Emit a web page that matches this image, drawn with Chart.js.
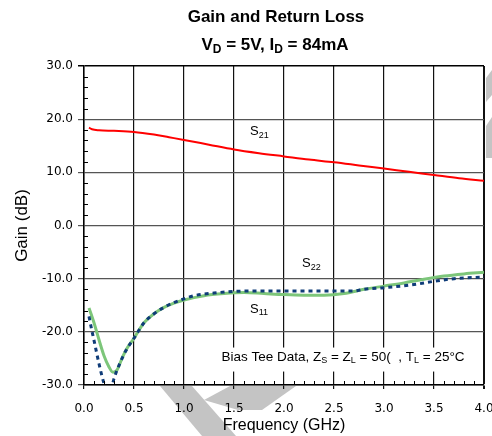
<!DOCTYPE html>
<html>
<head>
<meta charset="utf-8">
<script src="https://cdn.jsdelivr.net/npm/chart.js@4.4.1/dist/chart.umd.min.js"></script>
<style>
  html, body { margin: 0; padding: 0; background: #fff; }
  #wrap { width: 492px; height: 436px; }
</style>
</head>
<body>
<div id="wrap"><canvas id="chart" width="492" height="436"></canvas></div>
<script>
// frequencies (GHz) and values (dB)
const freqS21 = [0.05, 0.08, 0.15, 0.3, 0.5, 0.7, 0.85, 1.0, 1.25, 1.5, 1.75, 2.0, 2.25, 2.5, 2.75, 3.0, 3.25, 3.5, 3.75, 4.0];
const s21 = [18.4, 18.1, 17.9, 17.8, 17.6, 17.1, 16.6, 16.1, 15.2, 14.3, 13.6, 13.0, 12.4, 11.9, 11.3, 10.7, 10.1, 9.5, 8.9, 8.4];

const freqS22 = [0.05, 0.1, 0.15, 0.2, 0.25, 0.29, 0.33, 0.38, 0.42, 0.5, 0.6, 0.7, 0.8, 0.9, 1.0, 1.2, 1.4, 1.6, 1.8, 2.0, 2.2, 2.4, 2.6, 2.8, 3.0, 3.2, 3.4, 3.6, 3.8, 4.0];
const s22 = [-15.5, -18.3, -21.5, -24.5, -26.6, -27.6, -27.2, -25.0, -23.4, -21.2, -18.3, -16.6, -15.4, -14.6, -14.0, -13.2, -12.8, -12.6, -12.8, -13.0, -13.1, -13.1, -12.8, -12.0, -11.4, -10.8, -10.1, -9.5, -9.1, -8.8];

const freqS11 = [0.05, 0.08, 0.1, 0.15, 0.2, 0.25, 0.3, 0.35, 0.42, 0.5, 0.6, 0.7, 0.8, 0.9, 1.0, 1.1, 1.3, 1.5, 1.8, 2.1, 2.4, 2.7, 2.8, 3.0, 3.3, 3.5, 3.7, 4.0];
const s11 = [-17.1, -19.9, -21.6, -26.0, -29.7, -32.0, -28.8, -26.3, -23.5, -21.2, -18.3, -16.6, -15.4, -14.5, -13.8, -13.2, -12.7, -12.4, -12.3, -12.3, -12.3, -12.3, -12.0, -11.7, -11.1, -10.5, -10.0, -9.7];

const xTicks = [0, 0.5, 1.0, 1.5, 2.0, 2.5, 3.0, 3.5, 4.0];
const yTicks = [-30, -20, -10, 0, 10, 20, 30];

const toPts = (xs, ys) => xs.map((x, i) => ({ x: x, y: ys[i] }));

const TXT = '"Liberation Sans", Arial, sans-serif';
const TICK = '"DejaVu Sans", sans-serif';

// draws text with subscripts: parts = [[text, isSub], ...]
function richText(ctx, parts, x, y, size, align, bold) {
  const w = bold ? 'bold ' : '';
  const big = w + size + 'px ' + TXT;
  const small = w + Math.round(size * 0.7) + 'px ' + TXT;
  let total = 0;
  parts.forEach(p => { ctx.font = p[1] ? small : big; total += ctx.measureText(p[0]).width; });
  let cx = align === 'center' ? x - total / 2 : x;
  ctx.textBaseline = 'alphabetic';
  ctx.textAlign = 'left';
  parts.forEach(p => {
    ctx.font = p[1] ? small : big;
    ctx.fillText(p[0], cx, p[1] ? y + size * 0.2 : y);
    cx += ctx.measureText(p[0]).width;
  });
  return total;
}

const watermark = {
  id: 'watermark',
  beforeDraw(chart) {
    const ctx = chart.ctx;
    ctx.save();
    ctx.fillStyle = '#c4c4c4';
    const polys = [
      [[160, 386], [192, 386], [236, 436], [202, 436]],
      [[204, 400], [230, 386], [296, 386], [262, 410], [238, 410]],
      [[486, 78], [492, 70], [492, 95], [486, 102]],
      [[486, 126], [492, 117], [492, 158], [486, 158]]
    ];
    polys.forEach(p => {
      ctx.beginPath();
      p.forEach((pt, i) => i ? ctx.lineTo(pt[0], pt[1]) : ctx.moveTo(pt[0], pt[1]));
      ctx.closePath();
      ctx.fill();
    });
    ctx.restore();
  }
};

const minorTicks = {
  id: 'minorTicks',
  afterDraw(chart) {
    const ctx = chart.ctx, xs = chart.scales.x, ys = chart.scales.y;
    const a = chart.chartArea;
    ctx.save();
    ctx.strokeStyle = '#000';
    ctx.lineWidth = 1;
    for (let v = -30; v <= 30; v += 2) {
      if (v % 10 === 0) continue;
      const py = Math.round(ys.getPixelForValue(v)) + 0.5;
      ctx.beginPath(); ctx.moveTo(a.left, py); ctx.lineTo(a.left + 4, py); ctx.stroke();
    }
    for (let i = 0; i <= 40; i++) {
      if (i % 5 === 0) continue;
      const px = Math.round(xs.getPixelForValue(i / 10)) + 0.5;
      ctx.beginPath(); ctx.moveTo(px, a.bottom); ctx.lineTo(px, a.bottom - 4); ctx.stroke();
    }
    ctx.restore();
  }
};

const labels = {
  id: 'labels',
  afterDatasetsDraw(chart) {
    const ctx = chart.ctx, xs = chart.scales.x, ys = chart.scales.y;
    ctx.save();
    ctx.fillStyle = '#000';
    richText(ctx, [['S', false], ['21', true]], xs.getPixelForValue(1.66), ys.getPixelForValue(17.0), 13, 'left');
    richText(ctx, [['S', false], ['22', true]], xs.getPixelForValue(2.18), ys.getPixelForValue(-7.8), 13, 'left');
    richText(ctx, [['S', false], ['11', true]], xs.getPixelForValue(1.66), ys.getPixelForValue(-16.4), 13, 'left');

    const note = [['Bias Tee Data, Z', false], ['S', true], [' = Z', false], ['L', true],
                  [' = 50(  , T', false], ['L', true], [' = 25\u00b0C', false]];
    const cx = xs.getPixelForValue(2.59), cy = ys.getPixelForValue(-25.4);
    ctx.globalAlpha = 0;
    const w = richText(ctx, note, cx, cy, 13.5, 'center');
    ctx.globalAlpha = 1;
    ctx.fillStyle = '#fff';
    ctx.fillRect(cx - w / 2 - 4, cy - 13, w + 8, 24);
    ctx.fillStyle = '#000';
    richText(ctx, note, cx, cy, 13.5, 'center');
    ctx.restore();
  }
};

const titles = {
  id: 'titles',
  afterDraw(chart) {
    const ctx = chart.ctx;
    ctx.save();
    ctx.fillStyle = '#000';
    richText(ctx, [['Gain and Return Loss', false]], 276, 22, 17, 'center', true);
    richText(ctx, [['V', false], ['D', true], [' = 5V, I', false], ['D', true], [' = 84mA', false]], 275, 50, 17, 'center', true);
    ctx.restore();
  }
};

new Chart(document.getElementById('chart'), {
  type: 'line',
  data: {
    datasets: [
      { label: 'S11', data: toPts(freqS11, s11), borderColor: '#0f3c78', borderWidth: 3, borderDash: [4, 4] },
      { label: 'S22', data: toPts(freqS22, s22), borderColor: '#7dc67a', borderWidth: 3 },
      { label: 'S21', data: toPts(freqS21, s21), borderColor: '#ff0000', borderWidth: 2 }
    ]
  },
  options: {
    responsive: false,
    animation: false,
    layout: { padding: { top: 66, right: 8, left: 0, bottom: 0 } },
    elements: { point: { radius: 0 }, line: { cubicInterpolationMode: 'monotone', fill: false } },
    plugins: { legend: { display: false }, tooltip: { enabled: false }, title: { display: false } },
    scales: {
      x: {
        type: 'linear', min: 0, max: 4,
        afterBuildTicks: s => { s.ticks = xTicks.map(v => ({ value: v })); },
        afterFit: s => { s.height = 51; s.paddingRight = 0; s.paddingLeft = 0; },
        ticks: { callback: v => v.toFixed(1), color: '#000', font: { family: TICK, size: 12 }, padding: 13, maxRotation: 0 },
        grid: {
          color: '#111', tickLength: 4,
          lineWidth: c => (c.tick && c.tick.value === 4) ? 2 : 1.2
        },
        border: { color: '#000', width: 1.5 },
        title: { display: true, text: 'Frequency (GHz)', color: '#000', font: { family: TXT, size: 16 }, padding: { top: 0, bottom: 1 } }
      },
      y: {
        min: -30, max: 30,
        afterBuildTicks: s => { s.ticks = yTicks.map(v => ({ value: v })); },
        afterFit: s => { s.width = 84; },
        ticks: { callback: v => v.toFixed(1), color: '#000', font: { family: TICK, size: 12 }, padding: 5 },
        grid: {
          color: c => (c.tick && c.tick.value === 30) ? '#000' : '#555', tickLength: 6,
          lineWidth: c => (c.tick && c.tick.value === 30) ? 1.5 : 1.2
        },
        border: { color: '#000', width: 1.5 },
        title: { display: true, text: 'Gain (dB)', color: '#000', font: { family: TXT, size: 17 }, padding: { top: 12, bottom: 0 } }
      }
    }
  },
  plugins: [watermark, minorTicks, labels, titles]
});
</script>
</body>
</html>
